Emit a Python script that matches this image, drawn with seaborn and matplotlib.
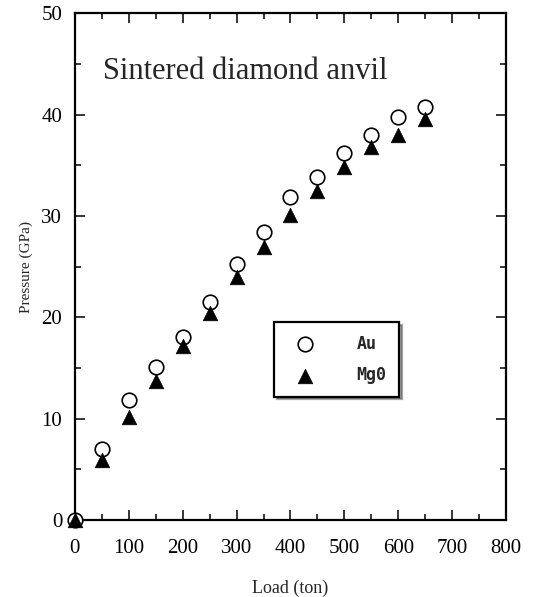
import pandas as pd
import seaborn as sns
import matplotlib.pyplot as plt
from matplotlib.ticker import MultipleLocator

load = [0, 50, 100, 150, 200, 250, 300, 350, 400, 450, 500, 550, 600, 650]
au = [0, 7.0, 11.8, 15.1, 18.1, 21.5, 25.3, 28.4, 31.9, 33.8, 36.2, 38.0, 39.8, 40.7]
mgo = [0, 5.9, 10.2, 13.7, 17.2, 20.4, 24.0, 26.9, 30.1, 32.5, 34.8, 36.8, 38.0, 39.6]

df = pd.DataFrame({'load': load, 'au': au, 'mgo': mgo})

sns.set_style('ticks')
plt.rcParams['font.family'] = ['Liberation Serif', 'DejaVu Serif']

fig = plt.figure(figsize=(5.34, 5.97), dpi=100)
ax = fig.add_axes([0.140, 0.129, 0.808, 0.849])

sns.scatterplot(x='load', y='au', data=df, ax=ax, marker='o', s=110,
                facecolor='white', edgecolor='black', linewidth=1.2, label='Au',
                zorder=3, clip_on=False)
sns.scatterplot(x='load', y='mgo', data=df, ax=ax, marker='^', s=110,
                color='black', edgecolor='black', linewidth=0.5, label='Mg0',
                zorder=4, clip_on=False)

ax.set_xlim(0, 800)
ax.set_ylim(0, 50)
ax.xaxis.set_major_locator(MultipleLocator(100))
ax.xaxis.set_minor_locator(MultipleLocator(50))
ax.yaxis.set_major_locator(MultipleLocator(10))
ax.yaxis.set_minor_locator(MultipleLocator(5))
ax.tick_params(which='both', direction='in', top=True, right=True, width=1.3)
ax.tick_params(which='major', length=7, labelsize=15, labelcolor='black')
ax.tick_params(axis='x', which='major', pad=14)
ax.tick_params(axis='y', which='major', pad=9)
ax.tick_params(which='minor', length=4)
for sp in ax.spines.values():
    sp.set_linewidth(1.6)
    sp.set_visible(True)
    sp.set_color('black')

ax.set_xlabel('Load (ton)', fontsize=13, labelpad=15)
ax.set_ylabel('Pressure (GPa)', fontsize=11, labelpad=6)

ax.text(0.066, 0.885, 'Sintered diamond anvil', transform=ax.transAxes,
        fontsize=22, ha='left', va='center')

leg = ax.legend(loc='upper left', bbox_to_anchor=(0.462, 0.39), frameon=True,
                shadow=True, fancybox=False, borderpad=0.75, labelspacing=0.8,
                handletextpad=2.0, borderaxespad=0, handlelength=2.2,
                prop={'family': 'DejaVu Sans Mono', 'weight': 'bold', 'size': 12})
leg.get_frame().set_edgecolor('black')
leg.get_frame().set_linewidth(1.6)

fig.savefig('out.png', dpi=100)
